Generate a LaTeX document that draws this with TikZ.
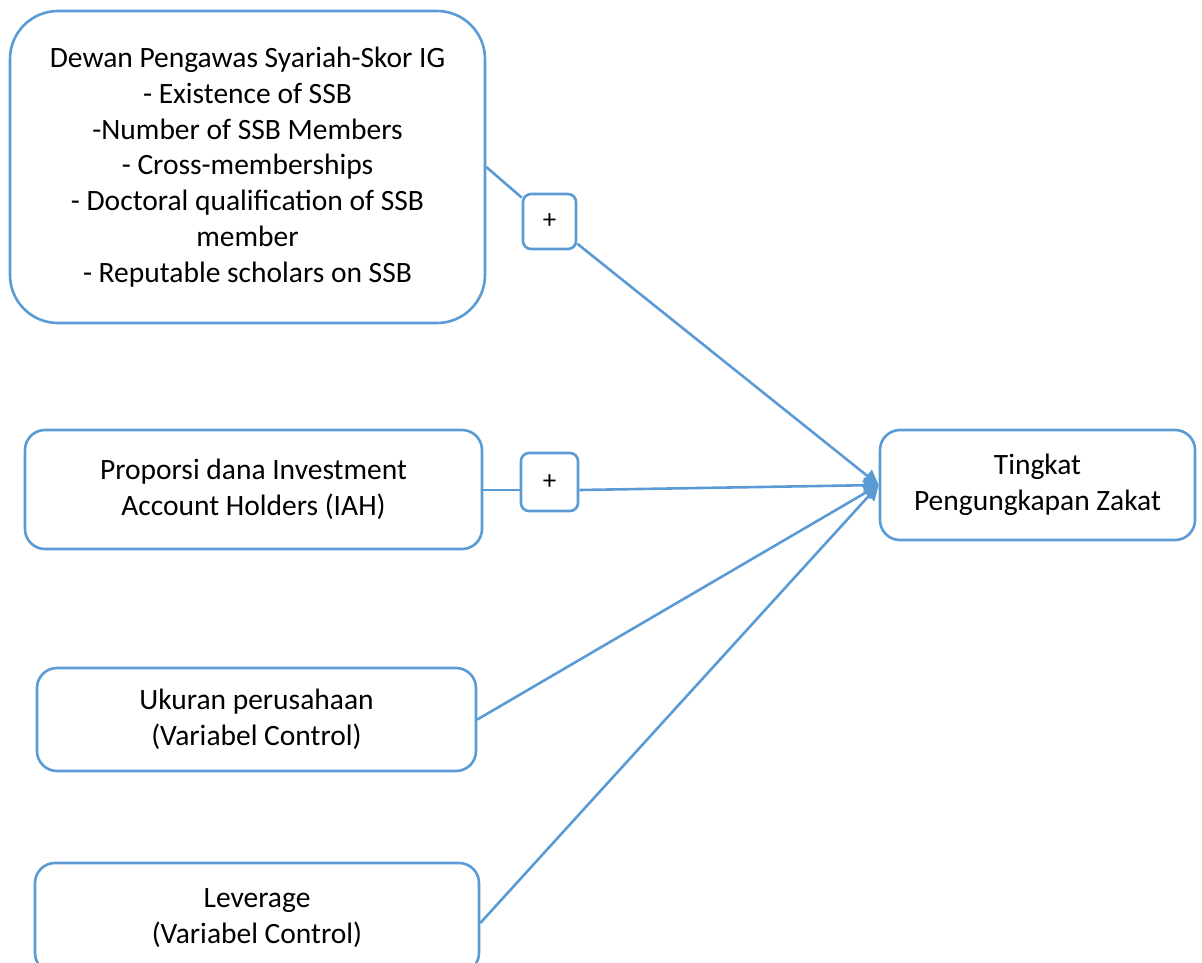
\documentclass[tikz,border=0pt]{standalone}
\usepackage{fontspec}
\setmainfont{Carlito}
\usetikzlibrary{arrows.meta}
\definecolor{lineblue}{RGB}{91,155,213}
\begin{document}
\begin{tikzpicture}[x=1pt,y=-1pt,
  box/.style={draw=lineblue,line width=2.6pt,rounded corners=20pt,align=center,inner sep=0pt,
    font=\fontsize{29.5}{35.8}\selectfont},
  plusbox/.style={draw=lineblue,line width=2.6pt,rounded corners=8pt,inner sep=0pt,
    font=\fontsize{27}{30}\selectfont},
  conn/.style={draw=lineblue,line width=2.6pt},
  arr/.style={conn,-{Triangle[length=15pt,width=15pt]}}]
\useasboundingbox (0,0) rectangle (1202,962);
\node[box,rounded corners=48pt,minimum width=475pt,minimum height=312pt] (ssb) at (247.5,167)
  {Dewan Pengawas Syariah-Skor IG\\- Existence of SSB\\-Number of SSB Members\\- Cross-memberships\\- Doctoral qualification of SSB\\member\\- Reputable scholars on SSB};
\node[box,minimum width=457pt,minimum height=119pt] (iah) at (253.5,489.5)
  {Proporsi dana Investment\\Account Holders (IAH)};
\node[box,minimum width=439pt,minimum height=103pt] (uk) at (256.5,719.5)
  {Ukuran perusahaan\\ (Variabel Control)};
\node[box,minimum width=444pt,minimum height=110pt] (lev) at (257,918)
  {Leverage\\(Variabel Control)};
\node[box,minimum width=315pt,minimum height=110pt] (tz) at (1037.5,485)
  {Tingkat\\Pengungkapan Zakat};
\node[plusbox,minimum width=53pt,minimum height=55pt] (p1) at (549.5,221.5) {+};
\node[plusbox,minimum width=57pt,minimum height=58pt] (p2) at (549.5,482) {+};
\draw[conn] (ssb.east) -- (p1);
\draw[arr] (p1) -- (tz.west);
\draw[conn] (iah.east |- 0,490) coordinate (iahx) -- (iahx -| p2.west);
\draw[arr] (iahx -| p2.east) -- (tz.west);
\draw[arr] (uk.east) -- (tz.west);
\draw[arr] ([yshift=-5pt]lev.east) -- (tz.west);
\end{tikzpicture}
\end{document}
